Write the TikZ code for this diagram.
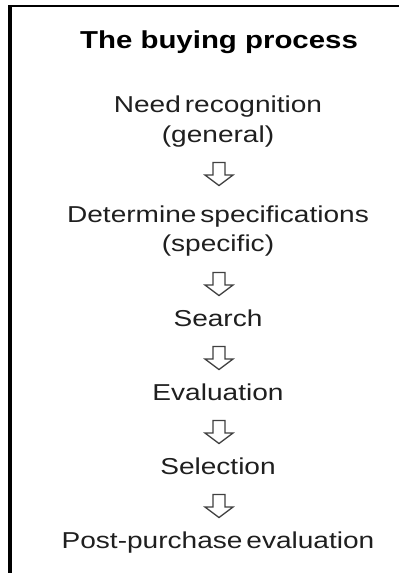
\documentclass[tikz,border=0pt]{standalone}
\usepackage{fontspec}
\setmainfont{Liberation Sans}
\usepackage{graphicx}
\newcommand{\stagelabel}[1]{\scalebox{1.22}[1]{\spaceskip=0.14em\relax #1}}
\begin{document}
\begin{tikzpicture}[x=1pt,y=-1pt,
  steptext/.style={anchor=base,inner sep=0pt,text=black!88,
    font=\fontsize{23}{23}\selectfont},
  titletext/.style={anchor=base,inner sep=0pt,text=black,
    font=\fontsize{24.5}{24.5}\selectfont\bfseries},
  arrowline/.style={draw=black!75,line width=1.3pt,fill=white,line join=miter},
  downarr/.pic={\path[arrowline] (-6,-11.5) -- (-6,1) -- (-14,1) -- (0,11.5)
      -- (14,1) -- (6,1) -- (6,-11.5) -- cycle;}]
\useasboundingbox (0,0) rectangle (399,573);
\fill[white] (0,0) rectangle (399,573);
% frame: top rule and left rule
\draw[line width=2pt] (8,6.2) -- (399,6.2);
\draw[line width=4pt] (10,5.2) -- (10,573);
% title
\node[titletext] (title) at (219,48) {\scalebox{1.2}[1]{The buying process}};
% stages
\node[steptext] (need)  at (218,112) {\stagelabel{Need recognition}};
\node[steptext] (gen)   at (218,142) {\stagelabel{(general)}};
\node[steptext] (det)   at (218,222) {\stagelabel{Determine specifications}};
\node[steptext] (spec)  at (218,251) {\stagelabel{(specific)}};
\node[steptext] (srch)  at (218,326) {\stagelabel{Search}};
\node[steptext] (eval)  at (218,400) {\stagelabel{Evaluation}};
\node[steptext] (sel)   at (218,474) {\stagelabel{Selection}};
\node[steptext] (post)  at (218,548) {\stagelabel{Post-purchase evaluation}};
% block arrows between stages
\coordinate (a1) at (219,174);
\coordinate (a2) at (219,284);
\coordinate (a3) at (219,358);
\coordinate (a4) at (219,432);
\coordinate (a5) at (219,506);
\pic at (a1) {downarr};
\pic at (a2) {downarr};
\pic at (a3) {downarr};
\pic at (a4) {downarr};
\pic at (a5) {downarr};
\end{tikzpicture}
\end{document}
